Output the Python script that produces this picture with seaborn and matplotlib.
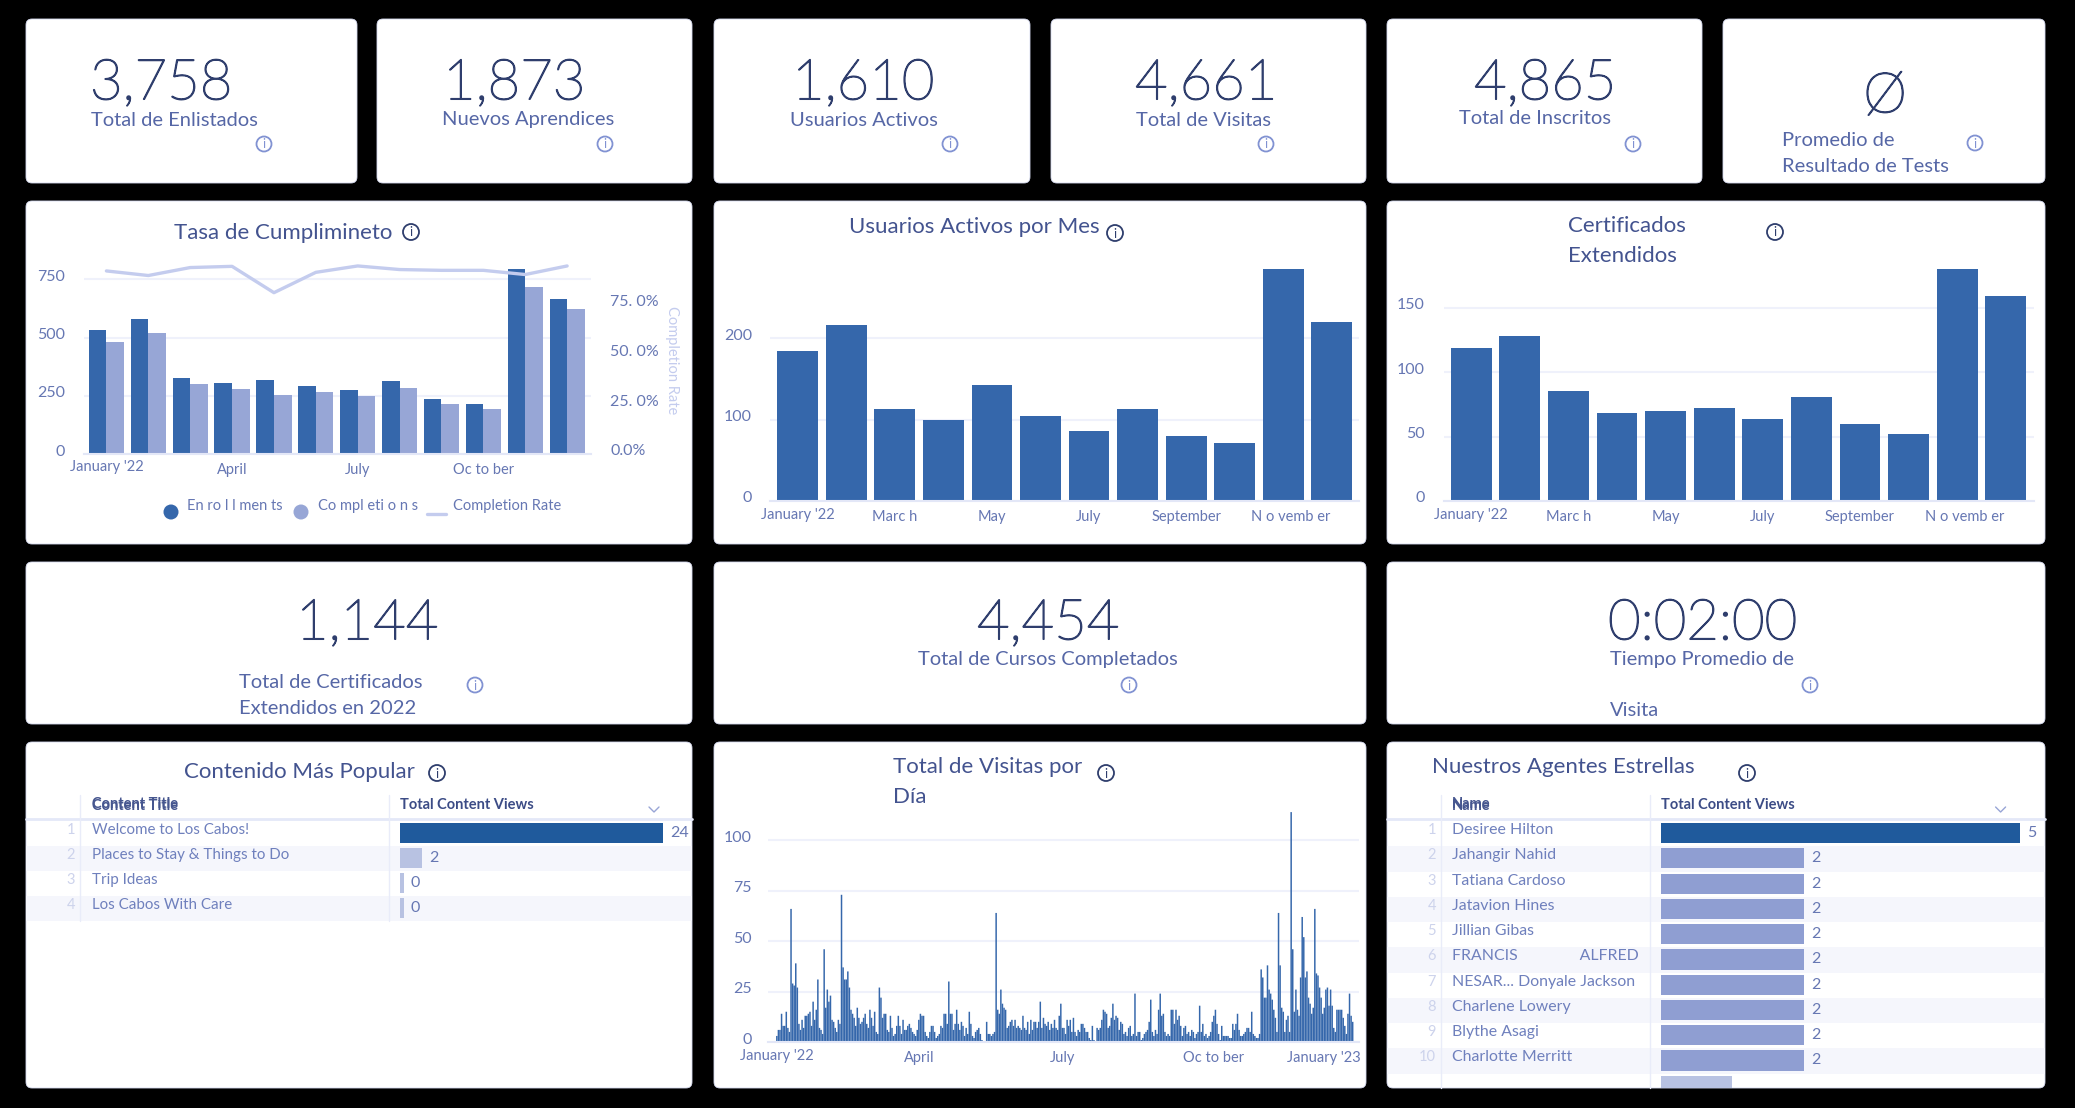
import matplotlib
matplotlib.use("Agg")
import matplotlib.pyplot as plt
import matplotlib.patheffects as pe
import seaborn as sns
import pandas as pd
from matplotlib.patches import FancyBboxPatch, Circle, Rectangle
from matplotlib.lines import Line2D
from matplotlib.transforms import ScaledTranslation

# ---------- data ----------
months = ["Jan", "Feb", "Mar", "Apr", "May", "Jun", "Jul", "Aug", "Sep", "Oct", "Nov", "Dec"]
enrollments = [531, 581, 328, 303, 318, 293, 273, 313, 236, 215, 793, 664]
completions = [482, 518, 300, 279, 255, 265, 249, 285, 213, 193, 716, 621]
completion_rate = [91.8, 89.5, 93.5, 94.1, 80.9, 91.1, 94.3, 92.5, 92.1, 92.1, 90.0, 94.3]
active_users = [184, 217, 113, 100, 143, 105, 86, 113, 80, 71, 285, 220]
certificates = [119, 128, 85, 68, 70, 72, 64, 81, 60, 52, 180, 159]

visits_jan = [3, 6, 6, 14, 8, 8, 15, 7, 5, 66, 29, 28, 39, 27, 9, 6, 11, 7, 13, 13, 14, 15, 8, 20, 11, 16, 31, 7, 6, 4, 46]
visits_feb = [17, 26, 20, 23, 11, 10, 7, 5, 11, 9, 73, 37, 31, 31, 35, 27, 16, 14, 12, 8, 17, 12, 9, 10, 12, 14, 9, 7]
visits_mar = [16, 12, 8, 15, 5, 4, 27, 22, 12, 14, 14, 6, 5, 13, 7, 3, 4, 8, 13, 8, 4, 11, 6, 6, 8, 9, 7, 5, 4, 3, 6]
visits_apr = [11, 14, 13, 13, 5, 3, 2, 5, 8, 8, 5, 2, 3, 4, 8, 7, 14, 14, 9, 30, 14, 14, 6, 9, 16, 9, 6, 10, 8, 3]
visits_may = [7, 4, 15, 9, 3, 2, 5, 6, 7, 4, 1, 0, 0, 10, 4, 4, 3, 4, 5, 64, 16, 14, 26, 19, 17, 16, 7, 8, 10, 11, 8]
visits_jun = [11, 7, 8, 7, 6, 13, 7, 6, 10, 4, 11, 6, 10, 10, 7, 10, 20, 7, 12, 9, 8, 10, 6, 9, 7, 11, 7, 6, 13, 19]
visits_jul = [7, 7, 4, 11, 8, 11, 5, 12, 5, 3, 6, 5, 9, 9, 7, 5, 5, 2, 1, 8, 1, 0, 7, 6, 7, 11, 16, 15, 14, 7, 8]
visits_aug = [12, 19, 11, 13, 12, 6, 10, 9, 4, 5, 3, 7, 8, 3, 4, 24, 3, 5, 5, 1, 2, 4, 5, 6, 10, 21, 5, 3, 6, 4, 16]
visits_sep = [24, 13, 14, 5, 3, 4, 3, 16, 16, 9, 16, 11, 13, 8, 3, 7, 8, 4, 5, 3, 6, 5, 2, 4, 5, 18, 5, 9, 3, 4]
visits_oct = [2, 3, 5, 10, 13, 16, 9, 4, 1, 8, 3, 3, 3, 3, 2, 2, 9, 6, 9, 14, 6, 3, 3, 4, 5, 7, 7, 5, 15, 4, 3]
visits_nov = [2, 2, 4, 36, 32, 22, 22, 38, 26, 24, 21, 16, 12, 5, 64, 38, 17, 15, 5, 11, 13, 5, 114, 46, 15, 26, 16, 13, 32, 62]
visits_dec = [52, 32, 35, 22, 19, 14, 17, 66, 34, 33, 27, 22, 14, 17, 26, 27, 18, 26, 18, 7, 5, 16, 16, 16, 16, 12, 8, 4, 14, 24, 13]
visits_jan23 = [10]

content_titles = ["Welcome to Los Cabos!", "Places to Stay & Things to Do", "Trip Ideas", "Los Cabos With Care"]
content_views = [24, 2, 0.35, 0.35]
agent_names = ["Desiree Hilton", "Jahangir Nahid", "Tatiana Cardoso", "Jatavion Hines", "Jillian Gibas",
               "FRANCIS               ALFRED", "NESAR... Donyale Jackson", "Charlene Lowery", "Blythe Asagi",
               "Charlotte Merritt", " "]
agent_views = [5, 2, 2, 2, 2, 2, 2, 2, 2, 2, 1]

# ---------- style ----------
W, H = 2075, 1108
FONT = "Lato"
NAVY = "#2f3e6d"
TITLE = "#43538f"
LABEL = "#5667a6"
TICK = "#6677b3"
GRID = "#eff1fb"
BASE = "#e3e7f7"
DARK = "#3567ab"
MID = "#97a6d6"
PALE = "#c4ccee"
TOPBAR = "#1f5a9c"
TBAR = "#8f9ed2"
LBAR = "#b8c2e2"
ZEBRA = "#f5f6fc"

sns.set_theme(style="white")
plt.rcParams["font.family"] = [FONT, "DejaVu Sans"]

fig = plt.figure(figsize=(W / 100, H / 100), dpi=100, facecolor="black")
bg = fig.add_axes([0, 0, 1, 1], zorder=0)
bg.set_xlim(0, W)
bg.set_ylim(H, 0)
bg.set_axis_off()


def card(l, t, r, b):
    bg.add_patch(FancyBboxPatch((l + 5, t + 5), r - l - 10, b - t - 10, boxstyle="round,pad=5,rounding_size=6",
                                fc="white", ec="#d5daf0", lw=0.6))


def txt(x, y, s, size=14, color=LABEL, ha="left", weight="normal", **kw):
    return bg.text(x, y, s, fontsize=size, color=color, ha=ha, va="center", fontweight=weight, **kw)


def info(x, y, color="#8192d2", r=7.5):
    bg.add_patch(Circle((x, y), r, fc="none", ec=color, lw=1.3))
    bg.text(x, y + 0.5, "i", fontsize=9, color=color, ha="center", va="center")


def px_axes(l, t, r, b):
    ax = fig.add_axes([l / W, 1 - b / H, (r - l) / W, (b - t) / H], zorder=2)
    ax.patch.set_visible(False)
    return ax


def shift(label, dx=0, dy=0):
    label.set_transform(label.get_transform() + ScaledTranslation(dx / 100, dy / 100, fig.dpi_scale_trans))


def style_chart(ax, yticks, pad, xpos, xlabels, xoffs=None):
    sns.despine(ax=ax, left=True, right=True, top=True, bottom=False)
    ax.spines["bottom"].set_color(BASE)
    ax.spines["bottom"].set_linewidth(1.5)
    ax.set_axisbelow(True)
    ax.set_xlabel("")
    ax.set_ylabel("")
    ax.set_yticks(yticks)
    ax.yaxis.grid(True, color=GRID, lw=1.5)
    ax.xaxis.grid(False)
    ax.tick_params(axis="y", length=0, pad=pad * 0.72, labelsize=11.5, labelcolor=TICK)
    ax.tick_params(axis="x", length=0, pad=6.5, labelsize=10.5, labelcolor=TICK)
    ax.set_xticks(xpos)
    ax.set_xticklabels(xlabels)
    for lab in ax.get_yticklabels():
        shift(lab, dy=4)
    if xoffs:
        for lab, (dx, dy) in zip(ax.get_xticklabels(), xoffs):
            shift(lab, dx=dx, dy=dy)


# ---------- cards ----------
for l, r in [(26, 357), (377, 692), (714, 1030), (1051, 1366), (1387, 1702), (1723, 2045)]:
    card(l, 19, r, 183)
for t, b in [(201, 544), (562, 724), (742, 1088)]:
    for l, r in [(26, 692), (714, 1366), (1387, 2045)]:
        card(l, t, r, b)

# ---------- KPI tiles ----------
BIG = 40.5
SUB = 14.5
STROKE = [pe.withStroke(linewidth=1.1, foreground=NAVY)]
for x, y, s in [(90, 84, "3,758"), (443, 84, "1,873"), (792, 84, "1,610"), (1135, 84, "4,661"), (1474, 84, "4,865"),
                (296, 624, "1,144"), (977, 624, "4,454"), (1608, 624, "0:02:00")]:
    txt(x, y, s, size=BIG, color=NAVY, weight="light", path_effects=STROKE)
txt(1885, 97, "Ø", size=40, color=NAVY, ha="center", weight="light", path_effects=STROKE)
for x, y, s in [(91, 120, "Total de Enlistados"), (442, 120, "Nuevos Aprendices"), (790, 120, "Usuarios Activos"),
                (1136, 120, "Total de Visitas"), (1459, 118, "Total de Inscritos"), (1782, 141, "Promedio de"),
                (1782, 167, "Resultado de Tests"), (239, 683, "Total de Certificados"), (239, 709, "Extendidos en 2022"),
                (918, 660, "Total de Cursos Completados"), (1610, 660, "Tiempo Promedio de"), (1610, 711, "Visita")]:
    txt(x, y, s, size=SUB)
for x, y in [(264, 144), (605, 144), (950, 144), (1266, 144), (1633, 144), (1975, 143), (475, 685), (1129, 685), (1810, 685)]:
    info(x, y)

# ---------- titles ----------
T = 16
for x, y, s in [(174, 233, "Tasa de Cumplimineto"), (849, 227, "Usuarios Activos por Mes"), (1568, 226, "Certificados"),
                (1568, 256, "Extendidos"), (184, 772, "Contenido Más Popular"), (893, 767, "Total de Visitas por"),
                (893, 797, "Día"), (1432, 767, "Nuestros Agentes Estrellas")]:
    txt(x, y, s, size=T, color=TITLE)
for x, y in [(411, 232), (1115, 233), (1775, 232), (437, 773), (1106, 773), (1747, 773)]:
    info(x, y, color=NAVY, r=8)

# ---------- completion chart ----------
ax1 = px_axes(84, 250, 591, 454)
df1 = pd.DataFrame({"month": months * 2, "value": enrollments + completions,
                    "series": ["Enrollments"] * 12 + ["Completions"] * 12})
sns.barplot(data=df1, x="month", y="value", hue="series", palette=[DARK, MID], width=0.84, saturation=1,
            legend=False, linewidth=0, ax=ax1)
ax1.set_xlim(-0.535, 11.57)
ax1.set_ylim(0, 876)
style_chart(ax1, [0, 250, 500, 750], 19, [0, 3, 6, 9], ["January '22", "April", "July", "Oc to ber"],
            [(0, 3), (0, 0), (0, 0), (0, 0)])
ax1b = ax1.twinx()
ax1b.patch.set_visible(False)
sns.lineplot(x=list(range(12)), y=completion_rate, color=PALE, lw=2.4, ax=ax1b, legend=False)
ax1b.set_ylim(0, 102.3)
ax1b.set_yticks([0, 25, 50, 75])
ax1b.set_yticklabels(["0.0%", "25. 0%", "50. 0%", "75. 0%"])
ax1b.tick_params(axis="y", length=0, pad=14, labelsize=11.5, labelcolor=TICK)
ax1b.grid(False)
ax1b.set_ylabel("")
for lab in ax1b.get_yticklabels():
    shift(lab, dy=4)
for sp in ax1b.spines.values():
    sp.set_visible(False)
txt(672, 360, "Completion Rate", size=10.5, color=PALE, ha="center", rotation=270)
bg.add_patch(Circle((171, 512), 7.5, fc=DARK, ec="none"))
bg.add_patch(Circle((301, 512), 7.5, fc=MID, ec="none"))
bg.add_line(Line2D([427, 446], [514, 514], color=PALE, lw=2.4))
txt(187, 506, "En ro l l men ts", size=10.5, color=TICK)
txt(318, 506, "Co mpl eti o n s", size=10.5, color=TICK)
txt(453, 506, "Completion Rate", size=10.5, color=TICK)

# ---------- active users per month ----------
MONTH_POS = [0, 2, 4, 6, 8, 10]
MONTH_LAB = ["January '22", "Marc h", "May", "July", "September", "N o vemb er"]
ax2 = px_axes(770, 262, 1359, 501)
sns.barplot(x=months, y=active_users, color=DARK, width=0.84, saturation=1, linewidth=0, ax=ax2)
ax2.set_xlim(-0.57, 11.56)
ax2.set_ylim(0, 294)
style_chart(ax2, [0, 100, 200], 18, MONTH_POS, MONTH_LAB, [(0, 2)] + [(0, 0)] * 4 + [(7, 0)])

# ---------- certificates ----------
ax3 = px_axes(1444, 262, 2034, 501)
sns.barplot(x=months, y=certificates, color=DARK, width=0.84, saturation=1, linewidth=0, ax=ax3)
ax3.set_xlim(-0.56, 11.58)
ax3.set_ylim(0, 185.5)
style_chart(ax3, [0, 50, 100, 150], 19, MONTH_POS, MONTH_LAB, [(0, 2)] + [(0, 0)] * 4 + [(7, 0)])

# ---------- daily visits ----------
visits = (visits_jan + visits_feb + visits_mar + visits_apr + visits_may + visits_jun + visits_jul + visits_aug
          + visits_sep + visits_oct + visits_nov + visits_dec + visits_jan23)
ax4 = px_axes(768, 800, 1359, 1042)
sns.barplot(x=list(range(len(visits))), y=visits, color=DARK, width=0.95, saturation=1, linewidth=0, ax=ax4)
for bar in ax4.patches:
    bar.set_snap(False)
ax4.set_xlim(-5.6, 369)
ax4.set_ylim(0, 120)
style_chart(ax4, [0, 25, 50, 75, 100], 16, [0, 90, 181, 273, 365],
            ["January '22", "April", "July", "Oc to ber", "January '23"],
            [(0, 2), (0, 0), (0, 0), (6, 0), (-29, 0)])


# ---------- tables ----------
def table(l, r, first_col, col2_x, sep1, sep2, chev, head, names, values, colors, left_bar, right_bar, vmax,
          bottom, pitch, name_size=11.5):
    n_vis = min(len(names), 10)
    for i in range(n_vis):
        top = 819 + 2 + i * pitch
        if i % 2 == 1:
            bg.add_patch(Rectangle((l, top), r - l, pitch, fc=ZEBRA, ec="none"))
        txt(sep1 - 5, 830 + i * pitch, str(i + 1), size=10.5, color="#cdd3ec", ha="right")
        txt(first_col, 830 + i * pitch, names[i], size=name_size, color="#6f80bd")
    bg.add_line(Line2D([l, r], [819, 819], color="#e4e8f8", lw=2))
    low = 819 + 2 + n_vis * pitch if bottom is None else bottom
    for sx in (sep1, sep2):
        bg.add_line(Line2D([sx, sx], [795, low], color="#e9ecf9", lw=1))
    for dy in (-1.5, 1.5):
        txt(first_col, 805 + dy, head, size=10.5, color="#46568f", weight="bold")
    txt(col2_x, 805, "Total Content Views", size=10.5, color="#3c4c86", weight="bold")
    bg.add_line(Line2D([chev - 5, chev, chev + 5], [807, 812, 807], color="#98a5d6", lw=1))
    ax_bottom = bottom if bottom is not None else 821 + len(names) * pitch
    ax = px_axes(left_bar, 820.5, right_bar, ax_bottom)
    sns.barplot(x=values, y=[f"{i}" for i in range(len(values))], hue=[f"{i}" for i in range(len(values))],
                palette=colors, orient="h", width=0.8, saturation=1, legend=False, dodge=False, linewidth=0, ax=ax)
    ax.set_xlim(0, vmax)
    ax.set_ylim((ax_bottom - 820.5) / pitch - 0.5, -0.5)
    ax.set_axis_off()
    for i, v in enumerate(values[:10]):
        ax.annotate(f"{int(v)}", xy=(v, i), xytext=(5, 0), textcoords="offset points", fontsize=11.5,
                    color=TICK, va="center")


table(26, 692, 91.5, 400, 80, 389, 654, "Content Title", content_titles, content_views,
      [TOPBAR, LBAR, LBAR, LBAR], 400, 663, 24, None, 25, name_size=10.9)
table(1387, 2045, 1452, 1660.6, 1441, 1650, 2000.6, "Name", agent_names, agent_views,
      [TOPBAR] + [TBAR] * 9 + [LBAR], 1660.6, 2020, 5, 1088, 25.26, name_size=11.4)

fig.savefig("out.png", dpi=100, facecolor="black")
